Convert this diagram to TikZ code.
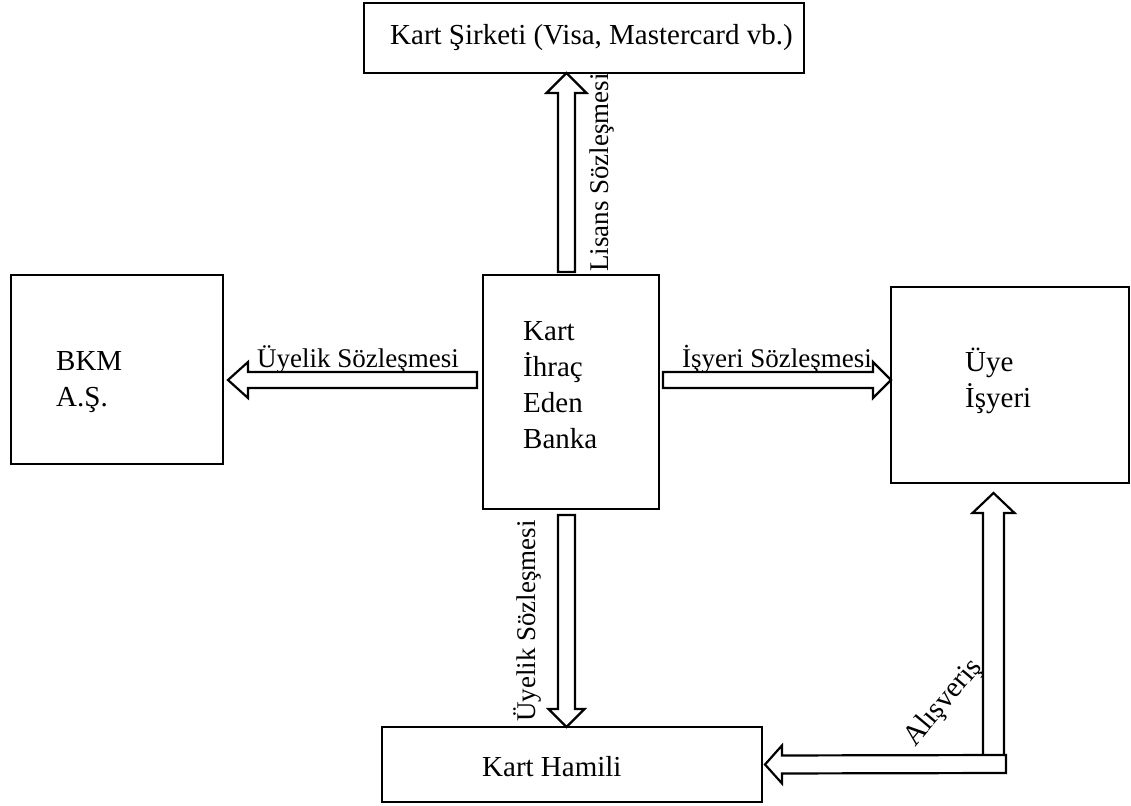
\documentclass[tikz,border=0pt]{standalone}
\usepackage{fontspec}
\setmainfont{Liberation Serif}
\usetikzlibrary{calc}

% Hollow block arrow from #1 (tail) to #2 (tip):
% #3 half shaft width, #4 half head width, #5 head length (all in pt)
\newcommand\blockarrow[5]{%
  \draw[arrowline] let \p1=(#1), \p2=(#2),
      \n1={atan2(\y2-\y1,\x2-\x1)},
      \n2={-sin(\n1)}, \n3={cos(\n1)},
      \p3=({\x2-#5*cos(\n1)},{\y2-#5*sin(\n1)}) in
    ({\x1+#3*\n2},{\y1+#3*\n3}) -- ({\x3+#3*\n2},{\y3+#3*\n3})
    -- ({\x3+#4*\n2},{\y3+#4*\n3}) -- (\x2,\y2)
    -- ({\x3-#4*\n2},{\y3-#4*\n3}) -- ({\x3-#3*\n2},{\y3-#3*\n3})
    -- ({\x1-#3*\n2},{\y1-#3*\n3}) -- cycle;}

\begin{document}
\begin{tikzpicture}[x=1pt,y=-1pt,
  box/.style={draw, line width=2.6pt, outer sep=0pt, inner sep=0pt},
  boxtext/.style={font=\fontsize{29}{36}\selectfont, inner sep=0pt, align=left},
  lab/.style={font=\fontsize{27}{32}\selectfont, inner sep=0pt},
  arrowline/.style={draw, fill=white, line width=2.2pt, line join=miter}]

\useasboundingbox (0,0) rectangle (1131,805);

% boxes
\node[box, minimum width=440pt, minimum height=70pt]  (card)     at (584,38)    {};
\node[box, minimum width=212pt, minimum height=189pt] (bkm)      at (117,369.5) {};
\node[box, minimum width=176pt, minimum height=234pt] (bank)     at (571,392)   {};
\node[box, minimum width=238pt, minimum height=196pt] (merchant) at (1010,385)  {};
\node[box, minimum width=380pt, minimum height=75pt]  (holder)   at (572,764.5) {};

% box texts (base = baseline of the last line)
\node[boxtext, anchor=base west] (cardT)     at (390,45)  {Kart Şirketi (Visa, Mastercard vb.)};
\node[boxtext, anchor=base west] (bkmT)      at (56,406)  {BKM\\A.Ş.};
\node[boxtext, anchor=base west] (bankT)     at (523,448) {Kart\\İhraç\\Eden\\Banka};
\node[boxtext, anchor=base west] (merchantT) at (965,407) {Üye\\İşyeri};
\node[boxtext, anchor=base west] (holderT)   at (482,776) {Kart Hamili};

% arrow end points
\coordinate (licA) at ($(bank.north)+(-4.5,-3)$);
\coordinate (licB) at (licA |- card.south);
\coordinate (memA) at ($(bank.west)+(-6,-12)$);
\coordinate (memB) at ($(bkm.east |- memA)+(5,0)$);
\coordinate (merA) at ($(bank.east)+(4,-12)$);
\coordinate (merB) at (merchant.west |- merA);
\coordinate (holA) at ($(bank.south)+(-4.5,6)$);
\coordinate (holB) at (holA |- holder.north);
\coordinate (shopV) at (993.5,757);
\coordinate (shopW) at ($(shopV |- merchant.south)+(0,10)$);
\coordinate (shopH) at (1006,764);
\coordinate (shopI) at ($(holder.east)+(3,0)$);

% arrows
\blockarrow{licA}{licB}{8.5}{20}{20}
\blockarrow{memA}{memB}{8}{18}{20}
\blockarrow{merA}{merB}{8}{18}{18}
\blockarrow{holA}{holB}{8.5}{18}{18}
\blockarrow{shopV}{shopW}{10.5}{21}{20}
\blockarrow{shopH}{shopI}{9}{19}{17}

% arrow labels
\node[lab, anchor=base west] (memL) at (257,367) {Üyelik Sözleşmesi};
\node[lab, anchor=base west] (merL) at (682,367) {İşyeri Sözleşmesi};
\node[lab, anchor=base west, rotate=90] (licL) at (608,272) {Lisans Sözleşmesi};
\node[lab, anchor=base west, rotate=90] (holL) at (535,722) {Üyelik Sözleşmesi};
\node[lab, font=\fontsize{29}{34}\selectfont, anchor=base west, rotate=50] (shopL) at (915,748) {Alışveriş};

\end{tikzpicture}
\end{document}
